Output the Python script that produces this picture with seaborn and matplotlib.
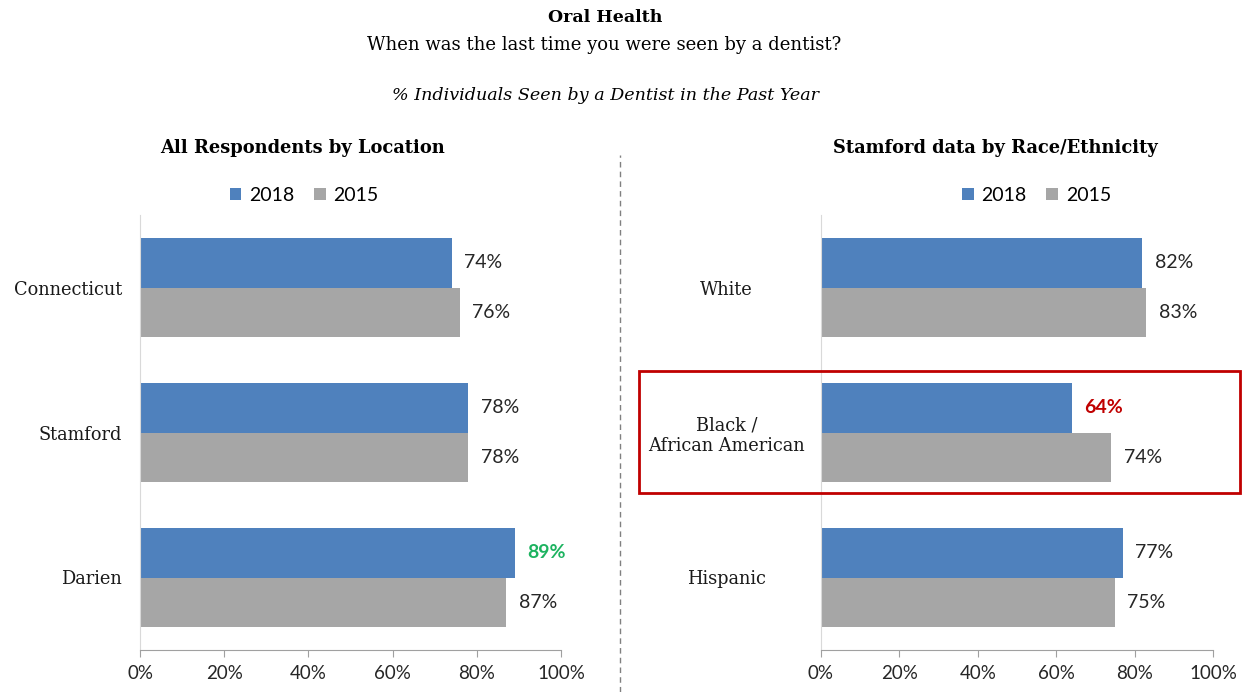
import numpy as np
import pandas as pd
import seaborn as sns
import matplotlib.pyplot as plt
from matplotlib.patches import Rectangle
from matplotlib.lines import Line2D

years = ["2018", "2015"]

locations = ["Connecticut", "Stamford", "Darien"]
loc_2018 = [74, 78, 89]
loc_2015 = [76, 78, 87]

races = ["White", "Black /\nAfrican American", "Hispanic"]
race_2018 = [82, 64, 77]
race_2015 = [83, 74, 75]

BLUE = "#4F81BD"
GRAY = "#A6A6A6"
SERIF = "DejaVu Serif"
SANS = "Lato"


def long_df(cats, v18, v15):
    return pd.DataFrame({
        "cat": cats * 2,
        "value": v18 + v15,
        "year": ["2018"] * len(cats) + ["2015"] * len(cats),
    })


def draw_panel(ax, df, cats, label_pad, label_ha, legend_x):
    sns.barplot(data=df, x="value", y="cat", hue="year", hue_order=years,
                palette=[BLUE, GRAY], saturation=1, width=0.68, linewidth=0,
                ax=ax, order=cats)
    ax.set_xlim(0, 100)
    ax.set_ylim(2.5, -0.5)
    ax.set_xticks(np.arange(0, 101, 20))
    ax.set_xticklabels([f"{t}%" for t in range(0, 101, 20)],
                       fontsize=13.5, family=SANS, color="#262626")
    ax.set_yticks(range(len(cats)))
    ax.set_yticklabels(cats, fontsize=12.8, family=SERIF, ha=label_ha,
                       color="#1a1a1a")
    ax.tick_params(axis="y", length=0, pad=label_pad)
    ax.tick_params(axis="x", length=5, color="#A0A0A0", pad=6)
    ax.set_xlabel("")
    ax.set_ylabel("")
    for s in ["top", "right"]:
        ax.spines[s].set_visible(False)
    ax.spines["left"].set_color("#D9D9D9")
    ax.spines["bottom"].set_color("#A0A0A0")
    texts = []
    for cont in ax.containers:
        texts.append(ax.bar_label(cont, labels=[f"{v:.0f}%" for v in cont.datavalues],
                                  padding=9, fontsize=14, family=SANS,
                                  color="#262626"))
    h, l = ax.get_legend_handles_labels()
    ax.legend(h, l, loc="center", bbox_to_anchor=(legend_x, 1.045), ncol=2,
              frameon=False, handlelength=0.6, handleheight=0.6,
              handletextpad=0.4, columnspacing=1.0,
              prop={"family": SANS, "size": 14})
    return texts


fig = plt.figure(figsize=(12.45, 6.92), dpi=100)
ax1 = fig.add_axes([140 / 1245, 1 - 650 / 692, 421 / 1245, 435 / 692])
ax2 = fig.add_axes([821 / 1245, 1 - 650 / 692, 392 / 1245, 435 / 692])

t1 = draw_panel(ax1, long_df(locations, loc_2018, loc_2015), locations,
                13, "right", 0.39)
t2 = draw_panel(ax2, long_df(races, race_2018, race_2015), races,
                68, "center", 0.55)

t1[0][2].set_color("#1DB360")
t1[0][2].set_fontweight("bold")
t2[0][1].set_color("#C00000")
t2[0][1].set_fontweight("bold")

fig.text(605 / 1245, 1 - 18 / 692, "Oral Health", ha="center", va="center",
         fontsize=12.5, fontweight="bold", family=SERIF)
fig.text(604 / 1245, 1 - 45 / 692, "When was the last time you were seen by a dentist?",
         ha="center", va="center", fontsize=13, family=SERIF)
fig.text(605 / 1245, 1 - 96 / 692, "% Individuals Seen by a Dentist in the Past Year",
         ha="center", va="center", fontsize=12.6, style="italic", family=SERIF)
fig.text(303 / 1245, 1 - 148 / 692, "All Respondents by Location", ha="center",
         va="center", fontsize=12.9, fontweight="bold", family=SERIF)
fig.text(995 / 1245, 1 - 148 / 692, "Stamford data by Race/Ethnicity", ha="center",
         va="center", fontsize=12.9, fontweight="bold", family=SERIF)

fig.add_artist(Line2D([620 / 1245, 620 / 1245], [0, 1 - 155 / 692],
                      transform=fig.transFigure, color="#808080",
                      linestyle=(0, (4, 3)), linewidth=1))
fig.add_artist(Rectangle((639 / 1245, 1 - 493 / 692), 601 / 1245, 122 / 692,
                         transform=fig.transFigure, fill=False,
                         edgecolor="#C00000", linewidth=2))

fig.savefig("out.png", dpi=100)
